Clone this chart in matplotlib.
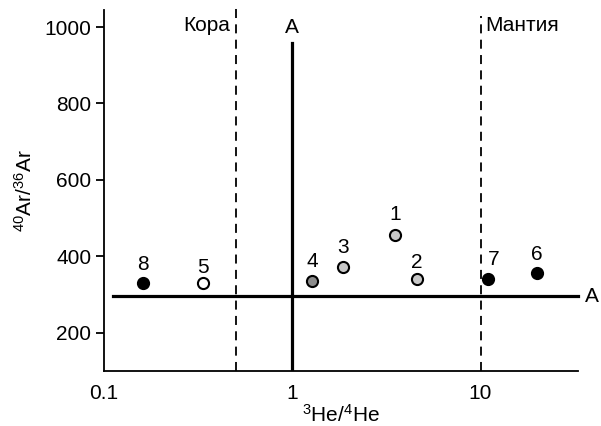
import matplotlib
matplotlib.use("Agg")
import matplotlib.pyplot as plt

plt.rcParams['font.family'] = ['Liberation Sans', 'DejaVu Sans']
plt.rcParams['mathtext.fontset'] = 'custom'
plt.rcParams['mathtext.rm'] = 'Liberation Sans'
plt.rcParams['mathtext.default'] = 'regular'

# Data
labels = ["1", "2", "3", "4", "5", "6", "7", "8"]
he_ratio = [3.5, 4.6, 1.87, 1.28, 0.336, 19.9, 10.9, 0.161]
ar_ratio = [456, 341, 372, 336, 331, 357, 341, 331]
fills = ["#c8c8c8", "#c8c8c8", "#c8c8c8", "#8c8c8c", "white", "black", "black", "black"]
label_offsets = [(0, 14.4), (0, 11.5), (0, 14.4), (0, 13.7), (0, 11), (0, 13), (4.3, 13.7), (0, 13)]

atm_ar = 295.5
atm_he = 1.0
crust_he = 0.5
mantle_he = 10.0
x_ticks = [0.1, 1, 10]
x_tick_labels = ["0.1", "1", "10"]
y_ticks = [200, 400, 600, 800, 1000]

FS = 15

fig = plt.figure(figsize=(6.01, 4.26), dpi=100)
ax = fig.add_axes([0.173, 0.129, 0.789, 0.848])
ax.set_xscale('log')
ax.set_xlim(0.1, 33)
ax.set_ylim(100, 1045)

# reference lines
ax.plot([0.112, 33], [atm_ar, atm_ar], color='black', lw=2.3, clip_on=False, zorder=2)
ax.plot([atm_he, atm_he], [100, 958], color='black', lw=2.3, zorder=2)
ax.plot([crust_he, crust_he], [100, 1060], color='black', lw=1.3, ls=(0, (5, 3.5)), clip_on=False, zorder=2)
ax.plot([mantle_he, mantle_he], [100, 1030], color='black', lw=1.3, ls=(0, (5, 3.5)), clip_on=False, zorder=2)

ax.text(0.47, 1003, "Кора", ha='right', va='center', fontsize=FS)
ax.text(10.6, 1005, "Мантия", ha='left', va='center', fontsize=FS)
ax.text(atm_he, 1000, "A", ha='center', va='center', fontsize=FS)
ax.text(36, atm_ar, "A", ha='left', va='center', fontsize=FS, clip_on=False)

for x, y, c, lab, off in zip(he_ratio, ar_ratio, fills, labels, label_offsets):
    ax.plot(x, y, 'o', ms=8, mfc=c, mec='black', mew=1.5, zorder=3)
    ax.annotate(lab, (x, y), xytext=off, textcoords='offset points',
                ha='center', va='center', fontsize=FS)

ax.set_xticks(x_ticks)
ax.set_xticklabels(x_tick_labels)
ax.minorticks_off()
ax.set_yticks(y_ticks)
ax.tick_params(axis='x', length=0, pad=9, labelsize=FS)
ax.tick_params(axis='y', length=6, width=1.3, labelsize=FS, pad=3)

for s in ['top', 'right']:
    ax.spines[s].set_visible(False)
for s in ['left', 'bottom']:
    ax.spines[s].set_linewidth(1.3)

ax.set_xlabel(r"$^{3}$He/$^{4}$He", fontsize=FS, labelpad=1)
ax.set_ylabel(r"$^{40}$Ar/$^{36}$Ar", fontsize=FS, labelpad=6)

fig.savefig("out.png", dpi=100)
